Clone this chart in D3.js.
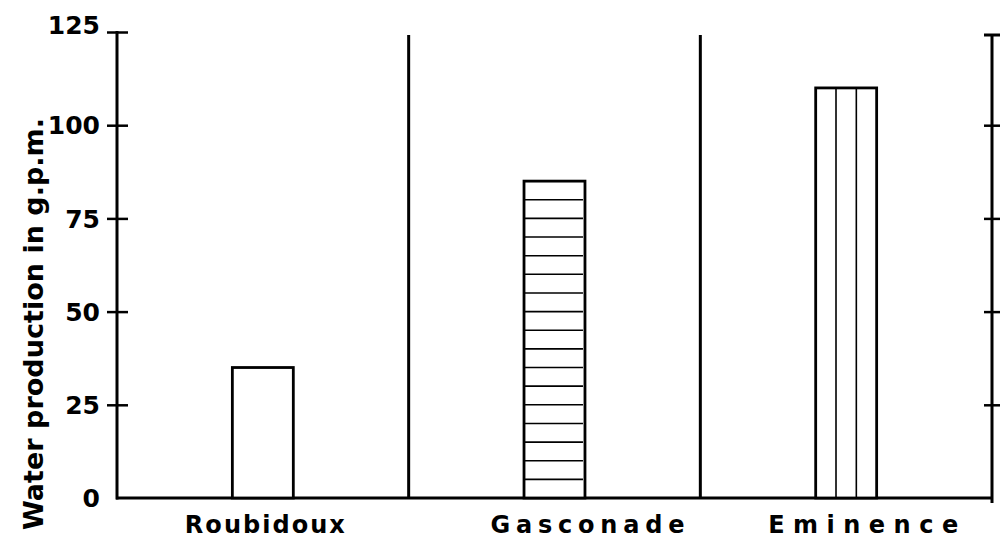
<!DOCTYPE html>
<html>
<head>
<meta charset="utf-8">
<script src="https://cdn.jsdelivr.net/npm/d3@7"></script>
<style>
  html, body { margin: 0; padding: 0; background: #fff; }
  svg { display: block; }
  text { font-family: "DejaVu Sans", sans-serif; font-weight: bold; fill: #000; }
</style>
</head>
<body>
<svg id="chart" width="1006" height="539"></svg>
<script>
// ---- data ----
const categories = ["Roubidoux", "Gasconade", "Eminence"];
const values = [35, 85, 110];
const patterns = ["none", "horizontal", "vertical"];
const yTicks = [0, 25, 50, 75, 100, 125];
const yTickLabels = ["0", "25", "50", "75", "100", "125"];
const rightTicks = [25, 50, 75, 100];
const hatchStep = 5;
const verticalDivisions = 3;
const yTitle = "Water production in g.p.m.";

// ---- layout (styles) ----
const plotLeft = 117, plotRight = 992, plotBase = 498, plotTop = 32;
const labelDx = [2, 33, 17];
const labelLen = [160, 194, 190];

const svg = d3.select("#chart");

const x = d3.scaleBand().domain(categories).range([plotLeft, plotRight])
  .paddingInner(0.791).paddingOuter(0.3955);
const y = d3.scaleLinear().domain([0, 125]).range([plotBase, plotTop]);

const g = svg.append("g");

// left axis
const axL = d3.axisLeft(y).tickValues(yTicks)
  .tickFormat((d, i) => yTickLabels[i]).tickSize(10).tickPadding(7);
const gL = g.append("g").attr("transform", `translate(${plotLeft},0)`).call(axL);
gL.select(".domain").remove();
gL.selectAll(".tick line").attr("stroke", "#000").attr("stroke-width", 2.5);
gL.selectAll(".tick").filter(d => d > 0).append("line")
  .attr("x1", 0).attr("x2", 11).attr("stroke", "#000").attr("stroke-width", 2.5);
gL.selectAll(".tick").filter(d => d === 0).select("line").remove();
gL.selectAll(".tick text").attr("font-size", 25).attr("font-family", "DejaVu Sans")
  .attr("font-weight", "bold").attr("fill", "#000")
  .attr("dy", d => d === 125 ? "0.05em" : "0.35em");
g.append("line").attr("x1", plotLeft).attr("x2", plotLeft).attr("y1", y(125) - 1).attr("y2", plotBase + 1.5)
  .attr("stroke", "#000").attr("stroke-width", 3);

// baseline
g.append("line").attr("x1", plotLeft - 1).attr("x2", plotRight + 1).attr("y1", plotBase).attr("y2", plotBase)
  .attr("stroke", "#000").attr("stroke-width", 3);

// dividers between categories
const dividers = categories.slice(1).map(c => x(c) - x.step() * x.paddingInner() / 2);
g.selectAll("line.div").data(dividers).join("line").attr("class", "div")
  .attr("x1", d => d).attr("x2", d => d).attr("y1", y(125) + 3).attr("y2", plotBase)
  .attr("stroke", "#000").attr("stroke-width", 3);

// right axis
const axR = d3.axisRight(y).tickValues(rightTicks).tickFormat("").tickSize(8);
const gR = g.append("g").attr("transform", `translate(${plotRight},0)`).call(axR);
gR.select(".domain").remove();
gR.selectAll(".tick line").attr("stroke", "#000").attr("stroke-width", 2.5);
gR.selectAll(".tick").append("line").attr("x1", 0).attr("x2", -8)
  .attr("stroke", "#000").attr("stroke-width", 2.5);
g.append("line").attr("x1", plotRight).attr("x2", plotRight).attr("y1", y(125) + 3).attr("y2", plotBase + 5)
  .attr("stroke", "#000").attr("stroke-width", 3);
g.append("line").attr("x1", plotRight - 8).attr("x2", plotRight + 8).attr("y1", y(125) + 3).attr("y2", y(125) + 3)
  .attr("stroke", "#000").attr("stroke-width", 3);

// bars
const bars = g.selectAll("g.bar").data(categories).join("g").attr("class", "bar");
bars.append("rect")
  .attr("x", d => x(d)).attr("width", x.bandwidth())
  .attr("y", (d, i) => y(values[i])).attr("height", (d, i) => plotBase - y(values[i]))
  .attr("fill", "#fff").attr("stroke", "#000").attr("stroke-width", 2.8);

bars.each(function (d, i) {
  const sel = d3.select(this);
  if (patterns[i] === "horizontal") {
    const levels = d3.range(hatchStep, values[i], hatchStep);
    sel.selectAll("line.h").data(levels).join("line").attr("class", "h")
      .attr("x1", x(d) + 1).attr("x2", x(d) + x.bandwidth() - 2)
      .attr("y1", v => y(v)).attr("y2", v => y(v))
      .attr("stroke", "#000").attr("stroke-width", 1.6);
  } else if (patterns[i] === "vertical") {
    const xs = d3.range(1, verticalDivisions).map(k => x(d) + k * x.bandwidth() / verticalDivisions);
    sel.selectAll("line.v").data(xs).join("line").attr("class", "v")
      .attr("x1", v => v).attr("x2", v => v)
      .attr("y1", y(values[i])).attr("y2", plotBase)
      .attr("stroke", "#000").attr("stroke-width", 1.6);
  }
});

// category labels
g.selectAll("text.cat").data(categories).join("text").attr("class", "cat")
  .attr("x", (d, i) => x(d) + x.bandwidth() / 2 + labelDx[i] - labelLen[i] / 2)
  .attr("y", 533)
  .attr("font-size", 24)
  .attr("textLength", (d, i) => labelLen[i])
  .attr("lengthAdjust", "spacing")
  .text(d => d);

// y title
svg.append("text")
  .attr("transform", `translate(43, ${(118 + 530) / 2}) rotate(-90)`)
  .attr("text-anchor", "middle")
  .attr("font-size", 27)
  .attr("textLength", 412)
  .attr("lengthAdjust", "spacing")
  .text(yTitle);
</script>
</body>
</html>
